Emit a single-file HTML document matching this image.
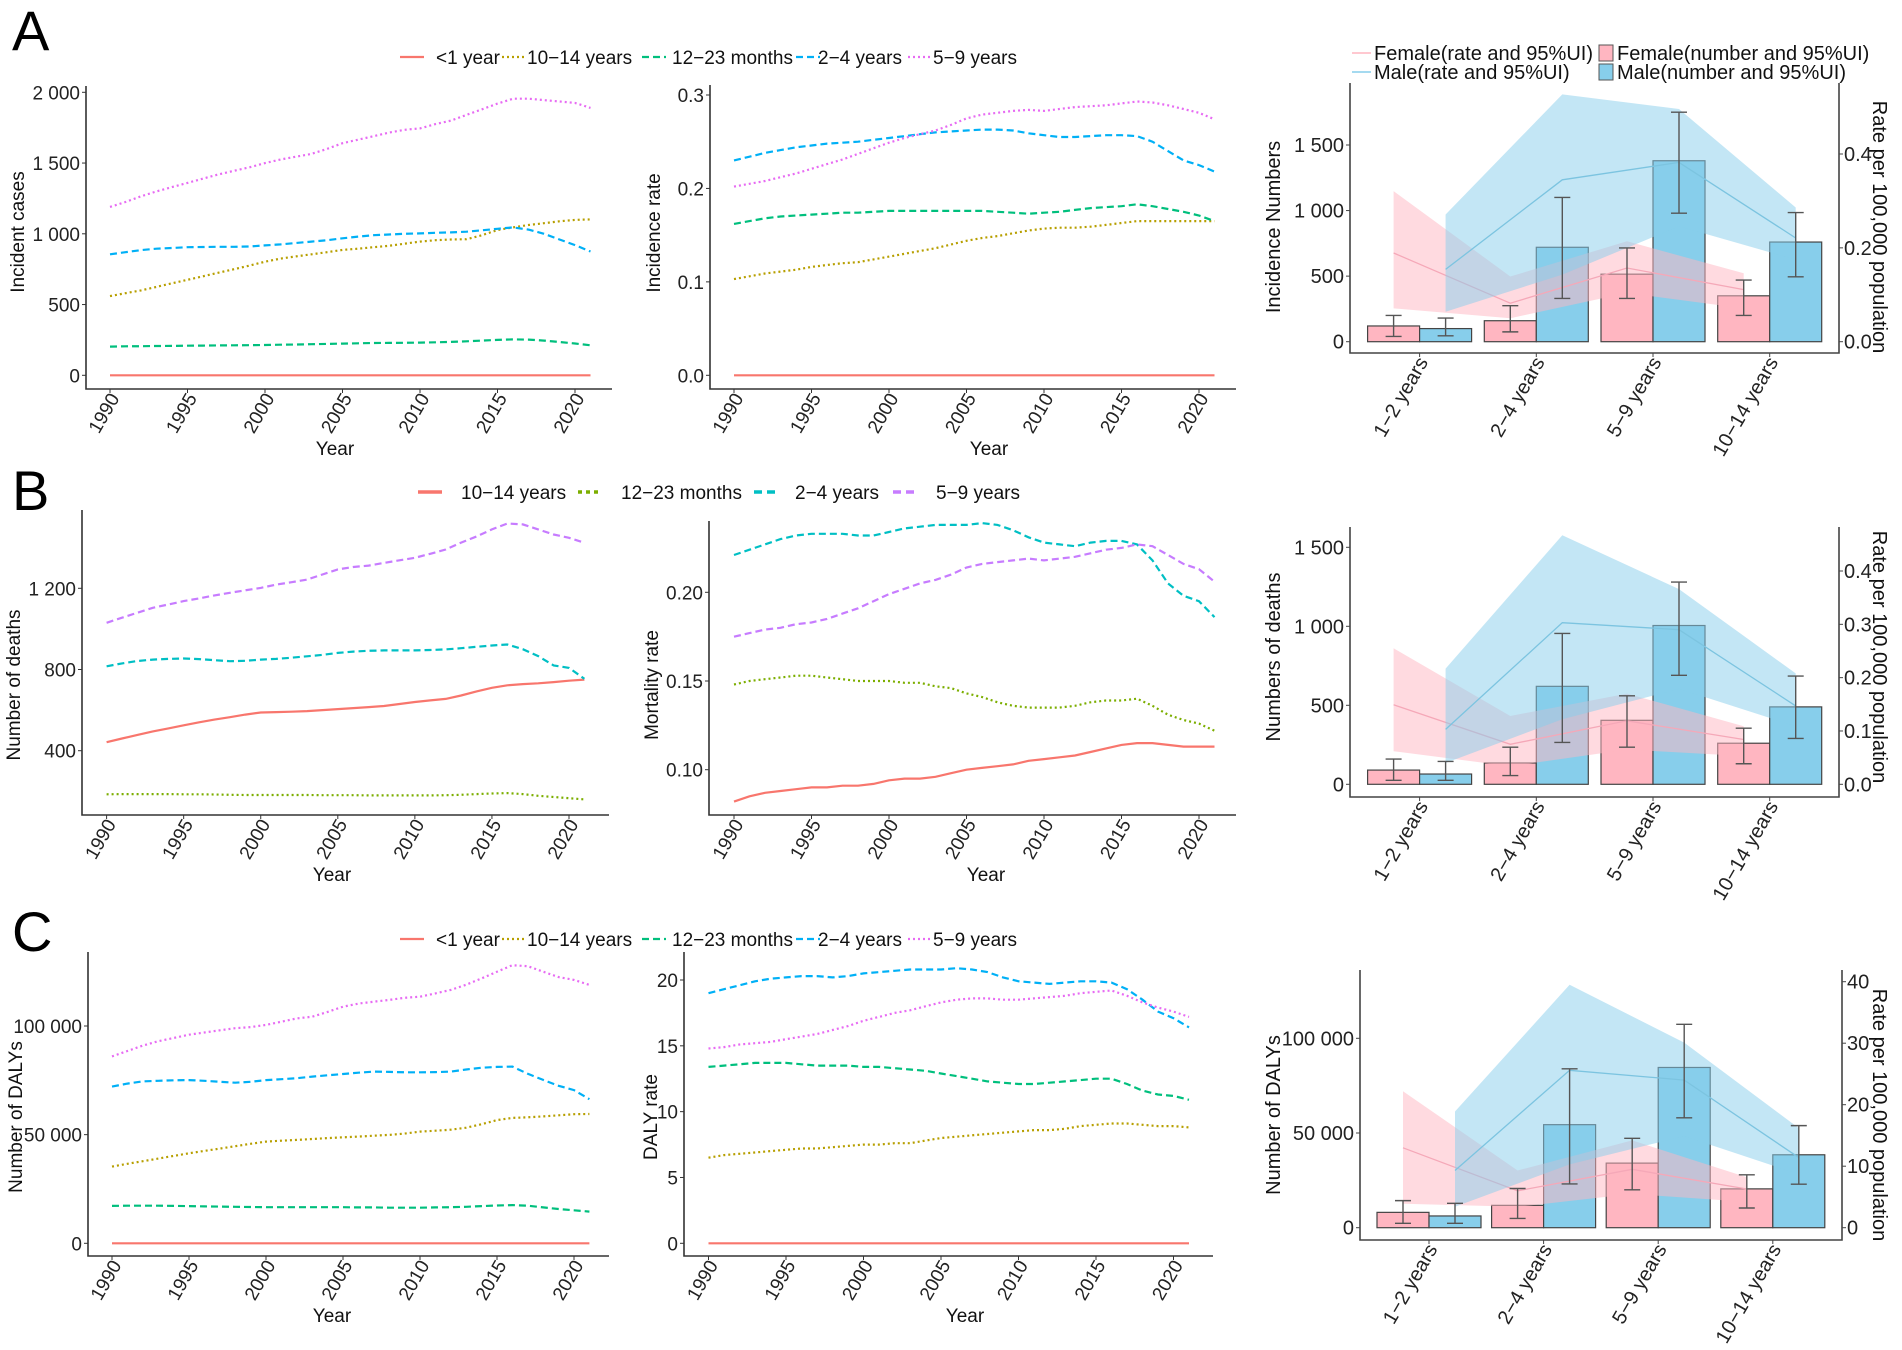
<!DOCTYPE html>
<html><head><meta charset="utf-8"><title>Incidence, mortality and DALYs by age group</title>
<style>
html,body{margin:0;padding:0;background:#fff;}
svg{display:block;font-family:"Liberation Sans",Arial,sans-serif;}
</style></head>
<body>
<svg id="fig" width="1902" height="1350" viewBox="0 0 1902 1350" xmlns="http://www.w3.org/2000/svg"></svg>
<script>
// ---------- shared ----------
const years = [];
for (let y = 1990; y <= 2021; y++) years.push(y);
const yearTicks = [1990,1995,2000,2005,2010,2015,2020];
const ageCats = ["1\u22122 years","2\u22124 years","5\u22129 years","10\u221214 years"];

// ---------- Panel A line data ----------
const aCasesLt1 = new Array(32).fill(0);
const aCases1014 = [560,580,600,625,650,675,700,725,750,775,803,825,840,855,870,886,895,905,915,930,945,955,960,962,990,1027,1045,1062,1075,1088,1098,1102];
const aCases1223 = [203,205,206,207,208,209,210,211,212,213,214,216,218,220,222,224,226,228,229,230,231,233,236,240,245,250,254,252,245,235,225,212];
const aCases24 = [855,870,885,895,900,905,907,908,908,910,918,925,935,945,955,968,980,990,995,1000,1003,1007,1010,1015,1025,1035,1045,1030,1000,960,920,875];
const aCases59 = [1190,1225,1265,1300,1330,1360,1390,1420,1445,1470,1500,1525,1545,1565,1600,1640,1665,1690,1715,1735,1745,1775,1800,1840,1880,1920,1955,1955,1945,1935,1925,1890];
const aCasesTicks = [0,500,1000,1500,2000];
const aCasesTickLabels = ["0","500","1 000","1 500","2 000"];

const aRateLt1 = new Array(32).fill(0);
const aRate1014 = [0.103,0.106,0.109,0.111,0.113,0.116,0.118,0.120,0.121,0.124,0.127,0.130,0.133,0.136,0.140,0.144,0.147,0.149,0.152,0.155,0.157,0.158,0.158,0.159,0.161,0.163,0.165,0.165,0.165,0.165,0.165,0.165];
const aRate1223 = [0.162,0.165,0.168,0.170,0.171,0.172,0.173,0.174,0.174,0.175,0.176,0.176,0.176,0.176,0.176,0.176,0.176,0.175,0.174,0.173,0.174,0.175,0.177,0.179,0.180,0.181,0.183,0.181,0.178,0.175,0.171,0.165];
const aRate24 = [0.230,0.234,0.238,0.241,0.244,0.246,0.248,0.249,0.250,0.252,0.254,0.256,0.258,0.260,0.261,0.262,0.263,0.263,0.262,0.259,0.257,0.255,0.255,0.256,0.257,0.257,0.256,0.250,0.240,0.230,0.225,0.218];
const aRate59 = [0.202,0.205,0.208,0.212,0.216,0.221,0.226,0.231,0.237,0.243,0.249,0.254,0.258,0.262,0.268,0.275,0.279,0.281,0.283,0.284,0.283,0.285,0.287,0.288,0.289,0.291,0.293,0.292,0.289,0.285,0.281,0.274];
const aRateTicks = [0,0.1,0.2,0.3];
const aRateTickLabels = ["0.0","0.1","0.2","0.3"];

// ---------- Panel B line data ----------
const bDeaths1014 = [442,460,478,495,510,525,540,553,565,578,588,590,592,595,600,605,610,615,620,630,640,648,655,672,692,710,722,728,732,738,745,750];
const bDeaths1223 = [185,186,186,186,186,185,185,184,183,182,182,182,182,182,181,181,181,180,180,180,180,180,181,183,186,189,191,186,178,172,166,160];
const bDeaths24 = [816,830,842,849,852,854,851,846,841,843,849,852,858,865,872,882,888,892,894,894,894,896,899,905,912,918,923,900,866,820,808,754];
const bDeaths59 = [1030,1055,1080,1104,1120,1137,1150,1165,1178,1190,1202,1218,1230,1243,1268,1293,1305,1312,1325,1338,1350,1370,1391,1425,1455,1490,1519,1515,1490,1465,1449,1424];
const bDeathsTicks = [400,800,1200];
const bDeathsTickLabels = ["400","800","1 200"];

const bRate1014 = [0.082,0.085,0.087,0.088,0.089,0.090,0.090,0.091,0.091,0.092,0.094,0.095,0.095,0.096,0.098,0.100,0.101,0.102,0.103,0.105,0.106,0.107,0.108,0.110,0.112,0.114,0.115,0.115,0.114,0.113,0.113,0.113];
const bRate1223 = [0.148,0.150,0.151,0.152,0.153,0.153,0.152,0.151,0.150,0.150,0.150,0.149,0.149,0.147,0.146,0.143,0.141,0.138,0.136,0.135,0.135,0.135,0.136,0.138,0.139,0.139,0.140,0.136,0.131,0.128,0.126,0.122];
const bRate24 = [0.221,0.224,0.227,0.230,0.232,0.233,0.233,0.233,0.232,0.232,0.234,0.236,0.237,0.238,0.238,0.238,0.239,0.238,0.235,0.231,0.228,0.227,0.226,0.228,0.229,0.229,0.227,0.218,0.205,0.198,0.195,0.186];
const bRate59 = [0.175,0.177,0.179,0.180,0.182,0.183,0.185,0.188,0.191,0.195,0.199,0.202,0.205,0.207,0.210,0.214,0.216,0.217,0.218,0.219,0.218,0.219,0.220,0.222,0.224,0.225,0.227,0.226,0.221,0.216,0.213,0.206];
const bRateTicks = [0.10,0.15,0.20];
const bRateTickLabels = ["0.10","0.15","0.20"];

// ---------- Panel C line data ----------
const cDalysLt1 = new Array(32).fill(0);
const cDalys1014 = [35300,36600,37800,39000,40200,41400,42500,43600,44700,45800,46800,47200,47600,48000,48400,48800,49100,49500,49900,50500,51400,51800,52300,53200,54800,56700,57700,58000,58400,58900,59400,59500];
const cDalys1223 = [17200,17300,17300,17300,17200,17100,17000,16900,16800,16700,16600,16600,16600,16600,16600,16600,16500,16500,16400,16400,16400,16500,16600,16800,17100,17400,17600,17300,16500,15800,15200,14600];
const cDalys24 = [72100,73500,74500,74800,75000,75100,74800,74300,73900,74300,75100,75500,76000,76700,77300,77900,78500,79000,78900,78700,78700,78800,79000,80000,80800,81200,81300,78000,75200,72500,70500,66300];
const cDalys59 = [86000,88500,91000,93000,94500,96000,97000,98000,99000,99500,100500,102000,103500,104300,106500,108900,110300,111200,112000,113000,113500,115000,116600,119000,121900,125000,128000,127500,125000,122500,121200,118900];
const cDalysTicks = [0,50000,100000];
const cDalysTickLabels = ["0","50 000","100 000"];

const cRateLt1 = new Array(32).fill(0);
const cRate1014 = [6.5,6.7,6.8,6.9,7.0,7.1,7.2,7.2,7.3,7.4,7.5,7.5,7.6,7.6,7.8,8.0,8.1,8.2,8.3,8.4,8.5,8.6,8.6,8.7,8.9,9.0,9.1,9.1,9.0,8.9,8.9,8.8];
const cRate1223 = [13.4,13.5,13.6,13.7,13.7,13.7,13.6,13.5,13.5,13.5,13.4,13.4,13.3,13.2,13.1,12.9,12.7,12.5,12.3,12.2,12.1,12.1,12.2,12.3,12.4,12.5,12.5,12.1,11.6,11.3,11.2,10.9];
const cRate24 = [19.0,19.3,19.6,19.9,20.1,20.2,20.3,20.3,20.2,20.3,20.5,20.6,20.7,20.8,20.8,20.8,20.9,20.8,20.6,20.2,19.9,19.8,19.7,19.8,19.9,19.9,19.8,19.3,18.5,17.6,17.1,16.4];
const cRate59 = [14.8,14.9,15.1,15.2,15.3,15.5,15.7,15.9,16.2,16.5,16.9,17.2,17.5,17.7,18.0,18.3,18.5,18.6,18.6,18.5,18.5,18.6,18.7,18.8,19.0,19.1,19.2,18.8,18.3,17.9,17.6,17.2];
const cRateTicks = [0,5,10,15,20];
const cRateTickLabels = ["0","5","10","15","20"];

// ---------- Right-hand bar charts ----------
const aFemaleNum = [120,160,515,350];
const aFemaleNumLo = [40,75,330,200];
const aFemaleNumHi = [200,275,715,470];
const aMaleNum = [100,720,1380,760];
const aMaleNumLo = [45,330,980,495];
const aMaleNumHi = [180,1100,1750,985];
const aFemaleRate = [0.189,0.082,0.157,0.111];
const aFemaleRateLo = [0.071,0.050,0.104,0.071];
const aFemaleRateHi = [0.321,0.139,0.214,0.146];
const aMaleRate = [0.154,0.345,0.382,0.221];
const aMaleRateLo = [0.064,0.143,0.246,0.175];
const aMaleRateHi = [0.271,0.527,0.496,0.286];
const aNumTicks = [0,500,1000,1500];
const aNumTickLabels = ["0","500","1 000","1 500"];
const aRRTicks = [0,0.2,0.4];
const aRRTickLabels = ["0.0","0.2","0.4"];

const bFemaleNum = [90,135,405,260];
const bFemaleNumLo = [25,55,235,130];
const bFemaleNumHi = [160,235,560,355];
const bMaleNum = [65,620,1005,490];
const bMaleNumLo = [25,265,690,290];
const bMaleNumHi = [145,955,1280,685];
const bFemaleRate = [0.149,0.075,0.119,0.084];
const bFemaleRateLo = [0.062,0.034,0.065,0.053];
const bFemaleRateHi = [0.255,0.128,0.170,0.109];
const bMaleRate = [0.103,0.303,0.290,0.147];
const bMaleRateLo = [0.040,0.122,0.179,0.109];
const bMaleRateHi = [0.217,0.467,0.366,0.208];
const bNumTicks = [0,500,1000,1500];
const bNumTickLabels = ["0","500","1 000","1 500"];
const bRRTicks = [0,0.1,0.2,0.3,0.4];
const bRRTickLabels = ["0.0","0.1","0.2","0.3","0.4"];

const cFemaleNum = [8100,11800,34100,20500];
const cFemaleNumLo = [2300,4900,20000,10400];
const cFemaleNumHi = [14300,20700,47200,27900];
const cMaleNum = [6200,54400,84600,38500];
const cMaleNumLo = [2300,23100,58000,23000];
const cMaleNumHi = [12900,83900,107400,53900];
const cFemaleRate = [13.0,6.0,9.5,6.3];
const cFemaleRateLo = [3.9,3.4,5.5,4.2];
const cFemaleRateHi = [22.2,9.3,14.2,8.2];
const cMaleRate = [9.3,25.6,24.0,11.4];
const cMaleRateLo = [3.4,10.3,14.9,8.7];
const cMaleRateHi = [18.9,39.5,30.1,16.2];
const cNumTicks = [0,50000,100000];
const cNumTickLabels = ["0","50 000","100 000"];
const cRRTicks = [0,10,20,30,40];
const cRRTickLabels = ["0","10","20","30","40"];

// ---------- helpers ----------
const NS = "http://www.w3.org/2000/svg";
const svg = document.getElementById("fig");
function mk(tag, attrs, parent) {
  const e = document.createElementNS(NS, tag);
  for (const k in attrs) e.setAttribute(k, attrs[k]);
  (parent || svg).appendChild(e);
  return e;
}
function txt(s, attrs, parent) {
  const t = mk("text", attrs, parent);
  t.textContent = s;
  return t;
}
function group(name, parent) {
  const g = mk("g", {}, parent);
  
  
  return g;
}
function linScale(v0, p0, v1, p1) { return v => p0 + (v - v0) * (p1 - p0) / (v1 - v0); }

// ---------- line chart ----------
function lineChart(name, cfg, series, ticks, tickLabels) {
  const g = group(name);
  const xs = linScale(1990, cfg.x1990, 2020, cfg.x2020);
  const ys = linScale(cfg.v0, cfg.p0, cfg.v1, cfg.p1);
  series.forEach(s => {
    let d = "";
    s.vals.forEach((v, i) => { d += (i ? "L" : "M") + xs(years[i]).toFixed(1) + "," + ys(v).toFixed(1); });
    const p = mk("path", {d: d, fill: "none", stroke: s.color, "stroke-width": 2.2, "stroke-dasharray": s.dash || "none"}, g);
    
    
  });
  const ax = mk("path", {d: `M${cfg.left},${cfg.top}L${cfg.left},${cfg.bottom}L${cfg.right},${cfg.bottom}`, fill: "none", stroke: "#333", "stroke-width": 1.6}, g);
  
  
  ticks.forEach((v, i) => {
    const y = ys(v);
    mk("line", {x1: cfg.left - 4, x2: cfg.left, y1: y, y2: y, stroke: "#333", "stroke-width": 1}, g);
    const t = txt(tickLabels[i], {x: cfg.left - 6, y: y + 7, "text-anchor": "end", "font-size": 19, fill: "#222"}, g);
    
    
  });
  yearTicks.forEach(yr => {
    const x = xs(yr);
    mk("line", {x1: x, x2: x, y1: cfg.bottom, y2: cfg.bottom + 4, stroke: "#333", "stroke-width": 1}, g);
    const t = txt(String(yr), {x: 0, y: 0, "text-anchor": "end", "font-size": 19, fill: "#222", transform: `translate(${x + 10},${cfg.bottom + 9}) rotate(-60)`}, g);
    
    
  });
  const xt = txt("Year", {x: cfg.yearX, y: cfg.bottom + 66, "text-anchor": "middle", "font-size": 19, fill: "#111"}, g);
  
  
  const yt = txt(cfg.title, {x: 0, y: 0, "text-anchor": "middle", "font-size": 19, fill: "#111", transform: `translate(${cfg.titleX},${cfg.titleY}) rotate(-90)`}, g);
  
  
}

// ---------- bar + ribbon chart ----------
function barChart(name, cfg, d, numTicks, numTickLabels, rrTicks, rrTickLabels) {
  const g = group(name);
  const yn = linScale(0, cfg.zero, cfg.nv, cfg.np);
  const yr = linScale(0, cfg.zero, cfg.rv, cfg.rp);
  const bw = 52;
  const cx = i => cfg.c0 + i * cfg.step;
  for (let i = 0; i < 4; i++) {
    const fb = mk("rect", {x: cx(i) - bw, y: yn(d.fN[i]), width: bw, height: cfg.zero - yn(d.fN[i]), fill: "#FFB6C1", stroke: "#444", "stroke-width": 1.2}, g);
    
    
    const mb = mk("rect", {x: cx(i), y: yn(d.mN[i]), width: bw, height: cfg.zero - yn(d.mN[i]), fill: "#87CEEB", stroke: "#444", "stroke-width": 1.2}, g);
    
    
  }
  function ribbon(off, lo, hi, mid, fill, line, key) {
    let top = "", bot = "", ln = "";
    for (let i = 0; i < 4; i++) {
      top += (i ? "L" : "M") + (cx(i) + off) + "," + yr(hi[i]).toFixed(1);
      ln += (i ? "L" : "M") + (cx(i) + off) + "," + yr(mid[i]).toFixed(1);
    }
    for (let i = 3; i >= 0; i--) bot += "L" + (cx(i) + off) + "," + yr(lo[i]).toFixed(1);
    const r = mk("path", {d: top + bot + "Z", fill: fill, "fill-opacity": 0.5, stroke: "none"}, g);
    
    
    const l = mk("path", {d: ln, fill: "none", stroke: line, "stroke-width": 1.3}, g);
    
    
  }
  ribbon(-26, d.fRL, d.fRH, d.fR, "#FFB6C1", "#f5a8b8", "female");
  ribbon(26, d.mRL, d.mRH, d.mR, "#87CEEB", "#7cc4e0", "male");
  function eb(x, lo, hi) {
    const e = mk("path", {d: `M${x - 8},${yn(hi)}H${x + 8}M${x},${yn(hi)}V${yn(lo)}M${x - 8},${yn(lo)}H${x + 8}`, stroke: "#555", "stroke-width": 1.4, fill: "none"}, g);
    
    
  }
  for (let i = 0; i < 4; i++) { eb(cx(i) - 26, d.fNL[i], d.fNH[i]); eb(cx(i) + 26, d.mNL[i], d.mNH[i]); }
  const ax = mk("path", {d: `M${cfg.left},${cfg.top}L${cfg.left},${cfg.bottom}L${cfg.right},${cfg.bottom}L${cfg.right},${cfg.top}`, fill: "none", stroke: "#444", "stroke-width": 1.6}, g);
  
  
  numTicks.forEach((v, i) => {
    const y = yn(v);
    mk("line", {x1: cfg.left - 4, x2: cfg.left, y1: y, y2: y, stroke: "#444"}, g);
    const t = txt(numTickLabels[i], {x: cfg.left - 6, y: y + 7, "text-anchor": "end", "font-size": 20, fill: "#222"}, g);
    
    
  });
  rrTicks.forEach((v, i) => {
    const y = yr(v);
    mk("line", {x1: cfg.right, x2: cfg.right + 4, y1: y, y2: y, stroke: "#444"}, g);
    const t = txt(rrTickLabels[i], {x: cfg.right + 5, y: y + 7, "text-anchor": "start", "font-size": 20, fill: "#222"}, g);
    
    
  });
  for (let i = 0; i < 4; i++) {
    mk("line", {x1: cx(i), x2: cx(i), y1: cfg.bottom, y2: cfg.bottom + 4, stroke: "#444"}, g);
    const t = txt(ageCats[i], {x: 0, y: 0, "text-anchor": "end", "font-size": 20, fill: "#222", transform: `translate(${cx(i) + 9},${cfg.bottom + 9}) rotate(-60)`}, g);
    
    
  }
  const lt = txt(cfg.title, {x: 0, y: 0, "text-anchor": "middle", "font-size": 20, fill: "#111", transform: `translate(1280,${cfg.titleY}) rotate(-90)`}, g);
  
  
  const rt = txt("Rate per 100,000 population", {x: 0, y: 0, "text-anchor": "middle", "font-size": 20, fill: "#111", transform: `translate(1873,${cfg.titleY}) rotate(90)`}, g);
  
  
}

// ---------- panel letters ----------
[["A", 12, 50], ["B", 12, 510], ["C", 12, 951]].forEach(p => {
  const t = txt(p[0], {x: p[1], y: p[2], "font-size": 56, fill: "#000"});
  
  
});

// ---------- legends ----------
const colLt1 = "#F8766D", col1014 = "#B79F00", col1223 = "#00BF7D", col24 = "#00B0F6", col59 = "#E76BF3";
const DOT = "2,3", DASH = "7,4";
function legend(name, y, items) {
  const g = group(name);
  items.forEach(it => {
    const l = mk("line", {x1: it.kx, x2: it.kx + 24, y1: y, y2: y, stroke: it.color, "stroke-width": it.w || 2.2, "stroke-dasharray": it.dash || "none"}, g);
    
    
    const t = txt(it.label, {x: it.tx, y: y + 7, "font-size": 19, fill: "#111"}, g);
    
    
  });
}
const legFive = [
  {kx: 400, tx: 436, label: "<1 year", color: colLt1},
  {kx: 502, tx: 527, label: "10\u221214 years", color: col1014, dash: DOT},
  {kx: 642, tx: 672, label: "12\u221223 months", color: col1223, dash: DASH},
  {kx: 796, tx: 818, label: "2\u22124 years", color: col24, dash: DASH},
  {kx: 908, tx: 933, label: "5\u22129 years", color: col59, dash: DOT}
];
legend("legend-a", 57, legFive);
legend("legend-b", 492, [
  {kx: 418, tx: 461, label: "10\u221214 years", color: "#F8766D", w: 3.5},
  {kx: 578, tx: 621, label: "12\u221223 months", color: "#7CAE00", dash: "4,4", w: 3.5},
  {kx: 754, tx: 795, label: "2\u22124 years", color: "#00BFC4", dash: "8,5", w: 3.5},
  {kx: 893, tx: 936, label: "5\u22129 years", color: "#C77CFF", dash: "8,5", w: 3.5}
]);
legend("legend-c", 939, legFive);

(function () {
  const g = group("legend-sex");
  const l1 = mk("line", {x1: 1352, x2: 1371, y1: 53, y2: 53, stroke: "#FFB6C1", "stroke-width": 1.5}, g);
  
  
  const t1 = txt("Female(rate and 95%UI)", {x: 1374, y: 60, "font-size": 20, fill: "#111"}, g);
  
  
  const l2 = mk("line", {x1: 1352, x2: 1371, y1: 72, y2: 72, stroke: "#87CEEB", "stroke-width": 1.5}, g);
  
  
  const t2 = txt("Male(rate and 95%UI)", {x: 1374, y: 79, "font-size": 20, fill: "#111"}, g);
  
  
  const r1 = mk("rect", {x: 1599, y: 45, width: 14, height: 16, fill: "#FFB6C1", stroke: "#555"}, g);
  
  
  const t3 = txt("Female(number and 95%UI)", {x: 1617, y: 60, "font-size": 20, fill: "#111"}, g);
  
  
  const r2 = mk("rect", {x: 1599, y: 64, width: 14, height: 16, fill: "#87CEEB", stroke: "#555"}, g);
  
  
  const t4 = txt("Male(number and 95%UI)", {x: 1617, y: 79, "font-size": 20, fill: "#111"}, g);
  
  
})();

// ---------- draw line charts ----------
lineChart("chart-a-incident-cases",
  {left: 86, right: 612, top: 86, bottom: 389, x1990: 110, x2020: 575, v0: 0, p0: 375.3, v1: 2000, p1: 92.3, title: "Incident cases", titleX: 24, titleY: 232, yearX: 335},
  [{key: "lt1", vals: aCasesLt1, color: colLt1}, {key: "10-14", vals: aCases1014, color: col1014, dash: DOT},
   {key: "12-23", vals: aCases1223, color: col1223, dash: DASH}, {key: "2-4", vals: aCases24, color: col24, dash: DASH},
   {key: "5-9", vals: aCases59, color: col59, dash: DOT}], aCasesTicks, aCasesTickLabels);
lineChart("chart-a-incidence-rate",
  {left: 710, right: 1236, top: 85, bottom: 389, x1990: 734, x2020: 1199, v0: 0, p0: 375.3, v1: 0.3, p1: 95, title: "Incidence rate", titleX: 660, titleY: 233, yearX: 989},
  [{key: "lt1", vals: aRateLt1, color: colLt1}, {key: "10-14", vals: aRate1014, color: col1014, dash: DOT},
   {key: "12-23", vals: aRate1223, color: col1223, dash: DASH}, {key: "2-4", vals: aRate24, color: col24, dash: DASH},
   {key: "5-9", vals: aRate59, color: col59, dash: DOT}], aRateTicks, aRateTickLabels);
lineChart("chart-b-deaths",
  {left: 82, right: 609, top: 510, bottom: 815, x1990: 106.6, x2020: 569, v0: 400, p0: 750.7, v1: 1200, p1: 588.3, title: "Number of deaths", titleX: 20, titleY: 685, yearX: 332},
  [{key: "10-14", vals: bDeaths1014, color: "#F8766D"}, {key: "12-23", vals: bDeaths1223, color: "#7CAE00", dash: DOT},
   {key: "2-4", vals: bDeaths24, color: "#00BFC4", dash: DASH}, {key: "5-9", vals: bDeaths59, color: "#C77CFF", dash: DASH}],
  bDeathsTicks, bDeathsTickLabels);
lineChart("chart-b-mortality-rate",
  {left: 709, right: 1236, top: 521, bottom: 815, x1990: 734, x2020: 1199, v0: 0.10, p0: 769.7, v1: 0.20, p1: 592.3, title: "Mortality rate", titleX: 658, titleY: 685, yearX: 986},
  [{key: "10-14", vals: bRate1014, color: "#F8766D"}, {key: "12-23", vals: bRate1223, color: "#7CAE00", dash: DOT},
   {key: "2-4", vals: bRate24, color: "#00BFC4", dash: DASH}, {key: "5-9", vals: bRate59, color: "#C77CFF", dash: DASH}],
  bRateTicks, bRateTickLabels);
lineChart("chart-c-dalys",
  {left: 88, right: 609, top: 952, bottom: 1256, x1990: 112, x2020: 574, v0: 0, p0: 1243.3, v1: 100000, p1: 1026, title: "Number of DALYs", titleX: 22, titleY: 1117, yearX: 332},
  [{key: "lt1", vals: cDalysLt1, color: colLt1}, {key: "10-14", vals: cDalys1014, color: col1014, dash: DOT},
   {key: "12-23", vals: cDalys1223, color: col1223, dash: DASH}, {key: "2-4", vals: cDalys24, color: col24, dash: DASH},
   {key: "5-9", vals: cDalys59, color: col59, dash: DOT}], cDalysTicks, cDalysTickLabels);
lineChart("chart-c-daly-rate",
  {left: 684, right: 1213, top: 952, bottom: 1256, x1990: 708.5, x2020: 1173.5, v0: 0, p0: 1243.3, v1: 20, p1: 980, title: "DALY rate", titleX: 657, titleY: 1117, yearX: 965},
  [{key: "lt1", vals: cRateLt1, color: colLt1}, {key: "10-14", vals: cRate1014, color: col1014, dash: DOT},
   {key: "12-23", vals: cRate1223, color: col1223, dash: DASH}, {key: "2-4", vals: cRate24, color: col24, dash: DASH},
   {key: "5-9", vals: cRate59, color: col59, dash: DOT}], cRateTicks, cRateTickLabels);

// ---------- draw bar charts ----------
barChart("chart-a-sex-incidence",
  {left: 1350, right: 1839, top: 83, bottom: 353, c0: 1419.6, step: 116.7, zero: 341.7, nv: 1500, np: 145, rv: 0.4, rp: 154, title: "Incidence Numbers", titleY: 227},
  {fN: aFemaleNum, fNL: aFemaleNumLo, fNH: aFemaleNumHi, mN: aMaleNum, mNL: aMaleNumLo, mNH: aMaleNumHi,
   fR: aFemaleRate, fRL: aFemaleRateLo, fRH: aFemaleRateHi, mR: aMaleRate, mRL: aMaleRateLo, mRH: aMaleRateHi},
  aNumTicks, aNumTickLabels, aRRTicks, aRRTickLabels);
barChart("chart-b-sex-deaths",
  {left: 1350, right: 1839, top: 527, bottom: 797, c0: 1419.6, step: 116.7, zero: 784.3, nv: 1500, np: 547.3, rv: 0.4, rp: 571, title: "Numbers of deaths", titleY: 657},
  {fN: bFemaleNum, fNL: bFemaleNumLo, fNH: bFemaleNumHi, mN: bMaleNum, mNL: bMaleNumLo, mNH: bMaleNumHi,
   fR: bFemaleRate, fRL: bFemaleRateLo, fRH: bFemaleRateHi, mR: bMaleRate, mRL: bMaleRateLo, mRH: bMaleRateHi},
  bNumTicks, bNumTickLabels, bRRTicks, bRRTickLabels);
barChart("chart-c-sex-dalys",
  {left: 1360, right: 1842, top: 970, bottom: 1240, c0: 1429, step: 114.6, zero: 1227.7, nv: 100000, np: 1038.3, rv: 40, rp: 981.7, title: "Number of DALYs", titleY: 1115},
  {fN: cFemaleNum, fNL: cFemaleNumLo, fNH: cFemaleNumHi, mN: cMaleNum, mNL: cMaleNumLo, mNH: cMaleNumHi,
   fR: cFemaleRate, fRL: cFemaleRateLo, fRH: cFemaleRateHi, mR: cMaleRate, mRL: cMaleRateLo, mRH: cMaleRateHi},
  cNumTicks, cNumTickLabels, cRRTicks, cRRTickLabels);
</script>
</body></html>
